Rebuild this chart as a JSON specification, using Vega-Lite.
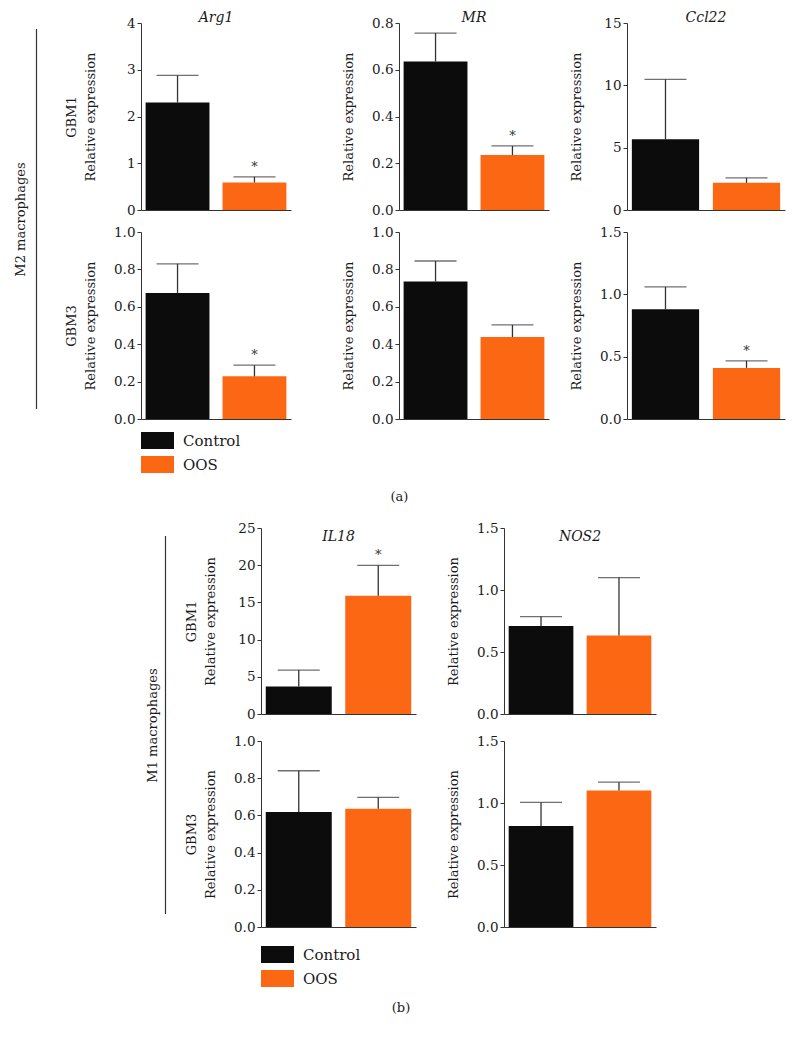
{
  "$schema": "https://vega.github.io/schema/vega-lite/v6.json",
  "padding": {"left": 14, "top": 11, "right": 5, "bottom": 5},
  "background": "white",
  "datasets": {
    "expr": [
      {"panel": "Arg1-GBM1", "group": "Control", "mean": 2.30, "upper": 2.88, "sig": ""},
      {"panel": "Arg1-GBM1", "group": "OOS", "mean": 0.59, "upper": 0.71, "sig": "*"},
      {"panel": "MR-GBM1", "group": "Control", "mean": 0.635, "upper": 0.757, "sig": ""},
      {"panel": "MR-GBM1", "group": "OOS", "mean": 0.235, "upper": 0.274, "sig": "*"},
      {"panel": "Ccl22-GBM1", "group": "Control", "mean": 5.68, "upper": 10.48, "sig": ""},
      {"panel": "Ccl22-GBM1", "group": "OOS", "mean": 2.18, "upper": 2.58, "sig": ""},
      {"panel": "Arg1-GBM3", "group": "Control", "mean": 0.674, "upper": 0.830, "sig": ""},
      {"panel": "Arg1-GBM3", "group": "OOS", "mean": 0.228, "upper": 0.288, "sig": "*"},
      {"panel": "MR-GBM3", "group": "Control", "mean": 0.735, "upper": 0.845, "sig": ""},
      {"panel": "MR-GBM3", "group": "OOS", "mean": 0.438, "upper": 0.503, "sig": ""},
      {"panel": "Ccl22-GBM3", "group": "Control", "mean": 0.880, "upper": 1.060, "sig": ""},
      {"panel": "Ccl22-GBM3", "group": "OOS", "mean": 0.410, "upper": 0.467, "sig": "*"},
      {"panel": "IL18-GBM1", "group": "Control", "mean": 3.70, "upper": 5.90, "sig": ""},
      {"panel": "IL18-GBM1", "group": "OOS", "mean": 15.9, "upper": 19.98, "sig": "*"},
      {"panel": "NOS2-GBM1", "group": "Control", "mean": 0.71, "upper": 0.786, "sig": ""},
      {"panel": "NOS2-GBM1", "group": "OOS", "mean": 0.633, "upper": 1.10, "sig": ""},
      {"panel": "IL18-GBM3", "group": "Control", "mean": 0.618, "upper": 0.840, "sig": ""},
      {"panel": "IL18-GBM3", "group": "OOS", "mean": 0.636, "upper": 0.697, "sig": ""},
      {"panel": "NOS2-GBM3", "group": "Control", "mean": 0.815, "upper": 1.005, "sig": ""},
      {"panel": "NOS2-GBM3", "group": "OOS", "mean": 1.10, "upper": 1.168, "sig": ""}
    ],
    "sectionLine": [{"start": 0, "end": 1}]
  },
  "config": {
    "font": "DejaVu Serif",
    "view": {"stroke": null},
    "axis": {
      "labelFont": "DejaVu Serif", "labelFontSize": 13.5, "labelColor": "#1a1a1a",
      "titleFont": "DejaVu Serif", "titleFontSize": 13, "titleFontWeight": "normal", "titleColor": "#1a1a1a",
      "domainColor": "#333333", "tickColor": "#333333", "grid": false, "tickSize": 4, "labelPadding": 2
    },
    "title": {"font": "DejaVu Serif", "fontStyle": "italic", "fontWeight": "normal", "fontSize": 14, "color": "#1a1a1a", "offset": 1, "frame": "group"},
    "legend": {"labelFont": "DejaVu Serif", "labelFontSize": 15, "labelColor": "#1a1a1a"},
    "rule": {"color": "#333333", "strokeWidth": 1.3},
    "tick": {"color": "#333333", "thickness": 1.3, "size": 42},
    "text": {"font": "DejaVu Serif", "fontSize": 13, "color": "#333333"}
  },
  "vconcat": [
    {
      "title": {"text": "(a)", "orient": "bottom", "anchor": "middle", "fontStyle": "normal", "fontSize": 13, "offset": 18, "frame": "bounds"},
      "spacing": 27,
      "resolve": {"scale": {"color": "independent"}, "legend": {"color": "independent"}},
      "hconcat": [
        {
          "width": 1, "height": 392,
          "data": {"name": "sectionLine"},
          "mark": {"type": "rule", "color": "#333333", "strokeWidth": 1.2},
          "encoding": {
            "y": {"field": "start", "type": "quantitative", "scale": {"domain": [-0.016, 1.016], "nice": false, "zero": false},
                  "axis": {"title": "M2 macrophages", "labels": false, "ticks": false, "domain": false, "titlePadding": 9}},
            "y2": {"field": "end"}
          }
        },
        {
          "spacing": 21,
          "resolve": {"scale": {"color": "independent"}, "legend": {"color": "independent"}},
          "hconcat": [
            {
              "spacing": 51,
              "resolve": {"scale": {"color": "independent"}, "legend": {"color": "independent"}},
              "hconcat": [
                {
                  "spacing": 8,
                  "resolve": {"scale": {"color": "independent"}, "legend": {"color": "independent"}},
                  "vconcat": [
                    {
                      "width": 150, "height": 187,
                      "title": {"text": "Arg1", "dy": 10},
                      "data": {"name": "expr"},
                      "transform": [{"filter": "datum.panel === 'Arg1-GBM1'"}],
                      "encoding": {
                        "x": {"field": "group", "type": "nominal", "sort": ["Control", "OOS"], "scale": {"paddingInner": 0.17, "paddingOuter": 0.06}, "axis": {"title": null, "labels": false, "ticks": false}},
                        "y": {"field": "mean", "type": "quantitative", "scale": {"domain": [0, 4], "nice": false}, "axis": {"values": [0, 1, 2, 3, 4], "format": "d", "title": ["GBM1", "Relative expression"], "titleLineHeight": 19, "titlePadding": 29}}
                      },
                      "layer": [
                        {"mark": "bar", "encoding": {"color": {"field": "group", "type": "nominal", "scale": {"domain": ["Control", "OOS"], "range": ["#0c0c0c", "#fc6714"]}, "legend": null}}},
                        {"mark": "rule", "encoding": {"y2": {"field": "upper"}}},
                        {"mark": "tick", "encoding": {"y": {"field": "upper", "type": "quantitative"}}},
                        {"mark": {"type": "text", "baseline": "bottom", "dy": -3}, "encoding": {"y": {"field": "upper", "type": "quantitative"}, "text": {"field": "sig"}}}
                      ]
                    },
                    {
                      "width": 150, "height": 187,
                      "data": {"name": "expr"},
                      "transform": [{"filter": "datum.panel === 'Arg1-GBM3'"}],
                      "encoding": {
                        "x": {"field": "group", "type": "nominal", "sort": ["Control", "OOS"], "scale": {"paddingInner": 0.17, "paddingOuter": 0.06}, "axis": {"title": null, "labels": false, "ticks": false}},
                        "y": {"field": "mean", "type": "quantitative", "scale": {"domain": [0, 1], "nice": false}, "axis": {"values": [0, 0.2, 0.4, 0.6, 0.8, 1], "format": ".1f", "title": ["GBM3", "Relative expression"], "titleLineHeight": 19, "titlePadding": 16}}
                      },
                      "layer": [
                        {"mark": "bar", "encoding": {"color": {"field": "group", "type": "nominal", "scale": {"domain": ["Control", "OOS"], "range": ["#0c0c0c", "#fc6714"]},
                          "legend": {"orient": "bottom", "direction": "vertical", "title": null, "symbolType": "M-1.94,-1H1.94V1H-1.94Z", "symbolSize": 289, "symbolOffset": 8, "labelOffset": 17, "rowPadding": 7, "offset": 13, "symbolStrokeWidth": 0, "symbolOpacity": 1}}}},
                        {"mark": "rule", "encoding": {"y2": {"field": "upper"}}},
                        {"mark": "tick", "encoding": {"y": {"field": "upper", "type": "quantitative"}}},
                        {"mark": {"type": "text", "baseline": "bottom", "dy": -3}, "encoding": {"y": {"field": "upper", "type": "quantitative"}, "text": {"field": "sig"}}}
                      ]
                    }
                  ]
                },
                {
                  "spacing": 8,
                  "vconcat": [
                    {
                      "width": 150, "height": 187,
                      "title": {"text": "MR", "dy": 10},
                      "data": {"name": "expr"},
                      "transform": [{"filter": "datum.panel === 'MR-GBM1'"}],
                      "encoding": {
                        "x": {"field": "group", "type": "nominal", "sort": ["Control", "OOS"], "scale": {"paddingInner": 0.17, "paddingOuter": 0.06}, "axis": {"title": null, "labels": false, "ticks": false}},
                        "y": {"field": "mean", "type": "quantitative", "scale": {"domain": [0, 0.8], "nice": false}, "axis": {"values": [0, 0.2, 0.4, 0.6, 0.8], "format": ".1f", "title": "Relative expression", "titlePadding": 16}}
                      },
                      "layer": [
                        {"mark": "bar", "encoding": {"color": {"field": "group", "type": "nominal", "scale": {"domain": ["Control", "OOS"], "range": ["#0c0c0c", "#fc6714"]}, "legend": null}}},
                        {"mark": "rule", "encoding": {"y2": {"field": "upper"}}},
                        {"mark": "tick", "encoding": {"y": {"field": "upper", "type": "quantitative"}}},
                        {"mark": {"type": "text", "baseline": "bottom", "dy": -3}, "encoding": {"y": {"field": "upper", "type": "quantitative"}, "text": {"field": "sig"}}}
                      ]
                    },
                    {
                      "width": 150, "height": 187,
                      "data": {"name": "expr"},
                      "transform": [{"filter": "datum.panel === 'MR-GBM3'"}],
                      "encoding": {
                        "x": {"field": "group", "type": "nominal", "sort": ["Control", "OOS"], "scale": {"paddingInner": 0.17, "paddingOuter": 0.06}, "axis": {"title": null, "labels": false, "ticks": false}},
                        "y": {"field": "mean", "type": "quantitative", "scale": {"domain": [0, 1], "nice": false}, "axis": {"values": [0, 0.2, 0.4, 0.6, 0.8, 1], "format": ".1f", "title": "Relative expression", "titlePadding": 16}}
                      },
                      "layer": [
                        {"mark": "bar", "encoding": {"color": {"field": "group", "type": "nominal", "scale": {"domain": ["Control", "OOS"], "range": ["#0c0c0c", "#fc6714"]}, "legend": null}}},
                        {"mark": "rule", "encoding": {"y2": {"field": "upper"}}},
                        {"mark": "tick", "encoding": {"y": {"field": "upper", "type": "quantitative"}}},
                        {"mark": {"type": "text", "baseline": "bottom", "dy": -3}, "encoding": {"y": {"field": "upper", "type": "quantitative"}, "text": {"field": "sig"}}}
                      ]
                    }
                  ]
                }
              ]
            },
            {
              "spacing": 8,
              "vconcat": [
                {
                  "width": 158, "height": 187,
                  "title": {"text": "Ccl22", "dy": 10},
                  "data": {"name": "expr"},
                  "transform": [{"filter": "datum.panel === 'Ccl22-GBM1'"}],
                  "encoding": {
                    "x": {"field": "group", "type": "nominal", "sort": ["Control", "OOS"], "scale": {"paddingInner": 0.17, "paddingOuter": 0.06}, "axis": {"title": null, "labels": false, "ticks": false}},
                    "y": {"field": "mean", "type": "quantitative", "scale": {"domain": [0, 15], "nice": false}, "axis": {"values": [0, 5, 10, 15], "format": "d", "title": "Relative expression", "titlePadding": 20}}
                  },
                  "layer": [
                    {"mark": "bar", "encoding": {"color": {"field": "group", "type": "nominal", "scale": {"domain": ["Control", "OOS"], "range": ["#0c0c0c", "#fc6714"]}, "legend": null}}},
                    {"mark": "rule", "encoding": {"y2": {"field": "upper"}}},
                    {"mark": "tick", "encoding": {"y": {"field": "upper", "type": "quantitative"}}},
                    {"mark": {"type": "text", "baseline": "bottom", "dy": -3}, "encoding": {"y": {"field": "upper", "type": "quantitative"}, "text": {"field": "sig"}}}
                  ]
                },
                {
                  "width": 158, "height": 187,
                  "data": {"name": "expr"},
                  "transform": [{"filter": "datum.panel === 'Ccl22-GBM3'"}],
                  "encoding": {
                    "x": {"field": "group", "type": "nominal", "sort": ["Control", "OOS"], "scale": {"paddingInner": 0.17, "paddingOuter": 0.06}, "axis": {"title": null, "labels": false, "ticks": false}},
                    "y": {"field": "mean", "type": "quantitative", "scale": {"domain": [0, 1.5], "nice": false}, "axis": {"values": [0, 0.5, 1, 1.5], "format": ".1f", "title": "Relative expression", "titlePadding": 16}}
                  },
                  "layer": [
                    {"mark": "bar", "encoding": {"color": {"field": "group", "type": "nominal", "scale": {"domain": ["Control", "OOS"], "range": ["#0c0c0c", "#fc6714"]}, "legend": null}}},
                    {"mark": "rule", "encoding": {"y2": {"field": "upper"}}},
                    {"mark": "tick", "encoding": {"y": {"field": "upper", "type": "quantitative"}}},
                    {"mark": {"type": "text", "baseline": "bottom", "dy": -3}, "encoding": {"y": {"field": "upper", "type": "quantitative"}, "text": {"field": "sig"}}}
                  ]
                }
              ]
            }
          ]
        }
      ]
    },
    {
      "title": {"text": "(b)", "orient": "bottom", "anchor": "middle", "fontStyle": "normal", "fontSize": 13, "offset": 15, "frame": "bounds"},
      "spacing": 18,
      "resolve": {"scale": {"color": "independent"}, "legend": {"color": "independent"}},
      "hconcat": [
        {
          "width": 1, "height": 394,
          "data": {"name": "sectionLine"},
          "mark": {"type": "rule", "color": "#333333", "strokeWidth": 1.2},
          "encoding": {
            "y": {"field": "start", "type": "quantitative", "scale": {"domain": [-0.021, 1.021], "nice": false, "zero": false},
                  "axis": {"title": "M1 macrophages", "labels": false, "ticks": false, "domain": false, "titlePadding": 6}},
            "y2": {"field": "end"}
          }
        },
        {
          "spacing": 31,
          "resolve": {"scale": {"color": "independent"}, "legend": {"color": "independent"}},
          "hconcat": [
            {
              "spacing": 13,
              "resolve": {"scale": {"color": "independent"}, "legend": {"color": "independent"}},
              "vconcat": [
                {
                  "width": 155, "height": 186,
                  "title": {"text": "IL18", "dy": 24},
                  "data": {"name": "expr"},
                  "transform": [{"filter": "datum.panel === 'IL18-GBM1'"}],
                  "encoding": {
                    "x": {"field": "group", "type": "nominal", "sort": ["Control", "OOS"], "scale": {"paddingInner": 0.17, "paddingOuter": 0.06}, "axis": {"title": null, "labels": false, "ticks": false}},
                    "y": {"field": "mean", "type": "quantitative", "scale": {"domain": [0, 25], "nice": false}, "axis": {"values": [0, 5, 10, 15, 20, 25], "format": "d", "title": ["GBM1", "Relative expression"], "titleLineHeight": 19, "titlePadding": 20}}
                  },
                  "layer": [
                    {"mark": "bar", "encoding": {"color": {"field": "group", "type": "nominal", "scale": {"domain": ["Control", "OOS"], "range": ["#0c0c0c", "#fc6714"]}, "legend": null}}},
                    {"mark": "rule", "encoding": {"y2": {"field": "upper"}}},
                    {"mark": "tick", "encoding": {"y": {"field": "upper", "type": "quantitative"}}},
                    {"mark": {"type": "text", "baseline": "bottom", "dy": -3}, "encoding": {"y": {"field": "upper", "type": "quantitative"}, "text": {"field": "sig"}}}
                  ]
                },
                {
                  "width": 155, "height": 186,
                  "data": {"name": "expr"},
                  "transform": [{"filter": "datum.panel === 'IL18-GBM3'"}],
                  "encoding": {
                    "x": {"field": "group", "type": "nominal", "sort": ["Control", "OOS"], "scale": {"paddingInner": 0.17, "paddingOuter": 0.06}, "axis": {"title": null, "labels": false, "ticks": false}},
                    "y": {"field": "mean", "type": "quantitative", "scale": {"domain": [0, 1], "nice": false}, "axis": {"values": [0, 0.2, 0.4, 0.6, 0.8, 1], "format": ".1f", "title": ["GBM3", "Relative expression"], "titleLineHeight": 19, "titlePadding": 16}}
                  },
                  "layer": [
                    {"mark": "bar", "encoding": {"color": {"field": "group", "type": "nominal", "scale": {"domain": ["Control", "OOS"], "range": ["#0c0c0c", "#fc6714"]},
                      "legend": {"orient": "bottom", "direction": "vertical", "title": null, "symbolType": "M-1.94,-1H1.94V1H-1.94Z", "symbolSize": 289, "symbolOffset": 8, "labelOffset": 17, "rowPadding": 7, "offset": 19, "symbolStrokeWidth": 0, "symbolOpacity": 1}}}},
                    {"mark": "rule", "encoding": {"y2": {"field": "upper"}}},
                    {"mark": "tick", "encoding": {"y": {"field": "upper", "type": "quantitative"}}},
                    {"mark": {"type": "text", "baseline": "bottom", "dy": -3}, "encoding": {"y": {"field": "upper", "type": "quantitative"}, "text": {"field": "sig"}}}
                  ]
                }
              ]
            },
            {
              "spacing": 13,
              "vconcat": [
                {
                  "width": 152, "height": 186,
                  "title": {"text": "NOS2", "dy": 24},
                  "data": {"name": "expr"},
                  "transform": [{"filter": "datum.panel === 'NOS2-GBM1'"}],
                  "encoding": {
                    "x": {"field": "group", "type": "nominal", "sort": ["Control", "OOS"], "scale": {"paddingInner": 0.17, "paddingOuter": 0.06}, "axis": {"title": null, "labels": false, "ticks": false}},
                    "y": {"field": "mean", "type": "quantitative", "scale": {"domain": [0, 1.5], "nice": false}, "axis": {"values": [0, 0.5, 1, 1.5], "format": ".1f", "title": "Relative expression", "titlePadding": 16}}
                  },
                  "layer": [
                    {"mark": "bar", "encoding": {"color": {"field": "group", "type": "nominal", "scale": {"domain": ["Control", "OOS"], "range": ["#0c0c0c", "#fc6714"]}, "legend": null}}},
                    {"mark": "rule", "encoding": {"y2": {"field": "upper"}}},
                    {"mark": "tick", "encoding": {"y": {"field": "upper", "type": "quantitative"}}},
                    {"mark": {"type": "text", "baseline": "bottom", "dy": -3}, "encoding": {"y": {"field": "upper", "type": "quantitative"}, "text": {"field": "sig"}}}
                  ]
                },
                {
                  "width": 152, "height": 186,
                  "data": {"name": "expr"},
                  "transform": [{"filter": "datum.panel === 'NOS2-GBM3'"}],
                  "encoding": {
                    "x": {"field": "group", "type": "nominal", "sort": ["Control", "OOS"], "scale": {"paddingInner": 0.17, "paddingOuter": 0.06}, "axis": {"title": null, "labels": false, "ticks": false}},
                    "y": {"field": "mean", "type": "quantitative", "scale": {"domain": [0, 1.5], "nice": false}, "axis": {"values": [0, 0.5, 1, 1.5], "format": ".1f", "title": "Relative expression", "titlePadding": 16}}
                  },
                  "layer": [
                    {"mark": "bar", "encoding": {"color": {"field": "group", "type": "nominal", "scale": {"domain": ["Control", "OOS"], "range": ["#0c0c0c", "#fc6714"]}, "legend": null}}},
                    {"mark": "rule", "encoding": {"y2": {"field": "upper"}}},
                    {"mark": "tick", "encoding": {"y": {"field": "upper", "type": "quantitative"}}},
                    {"mark": {"type": "text", "baseline": "bottom", "dy": -3}, "encoding": {"y": {"field": "upper", "type": "quantitative"}, "text": {"field": "sig"}}}
                  ]
                }
              ]
            }
          ]
        }
      ]
    }
  ],
  "spacing": 17,
  "center": true,
  "resolve": {"scale": {"color": "independent"}, "legend": {"color": "independent"}}
}
